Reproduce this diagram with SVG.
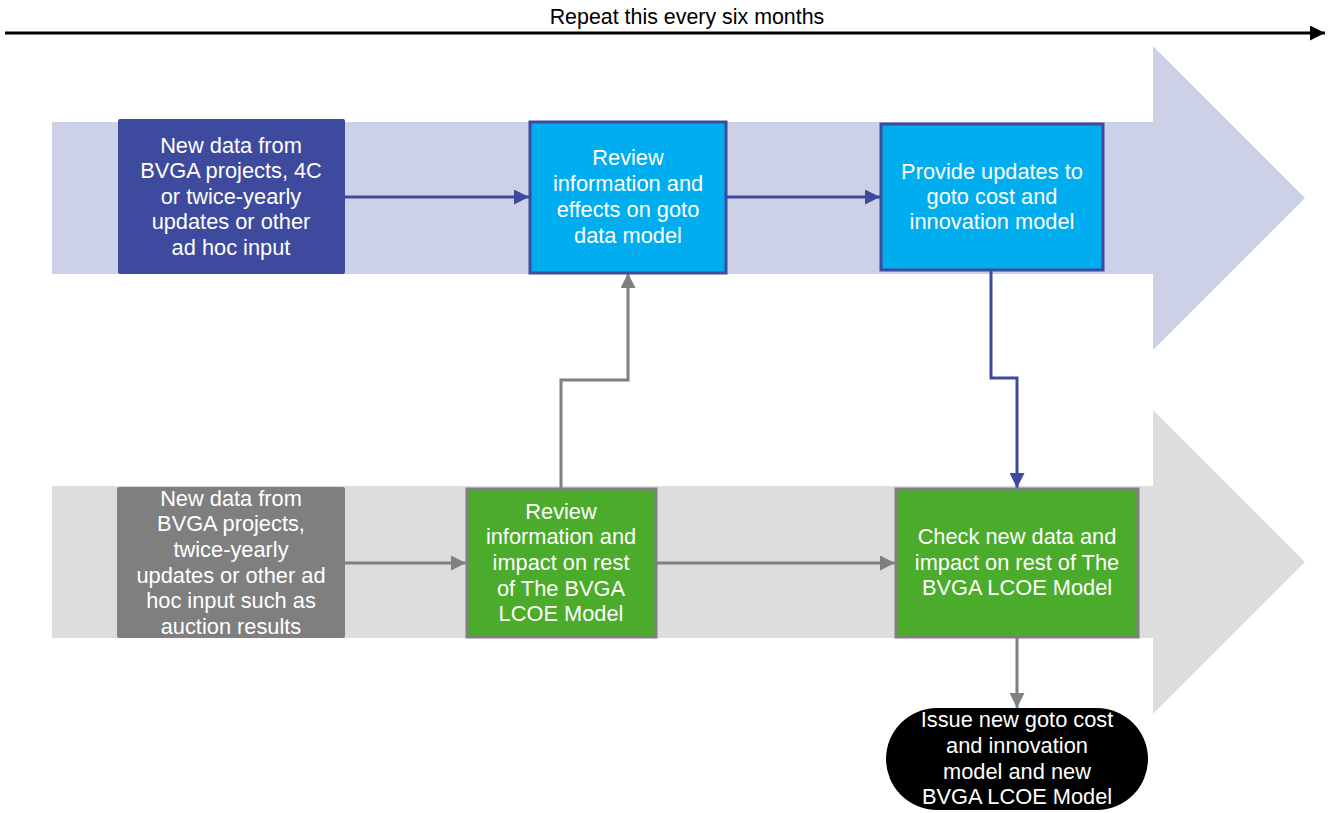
<svg xmlns="http://www.w3.org/2000/svg" width="1332" height="813" viewBox="0 0 1332 813">
<defs>
<style>
text{font-family:"Liberation Sans",Arial,sans-serif;font-size:21.8px;fill:#fff;text-anchor:middle}
.title{fill:#000;font-size:21.4px}
.cb{fill:none;stroke:#3D4A9E;stroke-width:3}
.cg{fill:none;stroke:#808080;stroke-width:3}
</style>
<marker id="ab" viewBox="0 0 10 10" refX="10" refY="5" markerWidth="5" markerHeight="5" orient="auto" markerUnits="strokeWidth"><path d="M0,0L10,5L0,10z" fill="#3D4A9E"/></marker>
<marker id="ag" viewBox="0 0 10 10" refX="10" refY="5" markerWidth="5" markerHeight="5" orient="auto" markerUnits="strokeWidth"><path d="M0,0L10,5L0,10z" fill="#808080"/></marker>
<marker id="ak" viewBox="0 0 10 10" refX="10" refY="5" markerWidth="5" markerHeight="5" orient="auto" markerUnits="strokeWidth"><path d="M0,0L10,5L0,10z" fill="#000"/></marker>
</defs>
<rect width="1332" height="813" fill="#fff"/>
<g id="timeline">
<line x1="5" y1="33" x2="1325" y2="33" stroke="#000" stroke-width="3" marker-end="url(#ak)"/>
<text class="title" x="687" y="24">Repeat this every six months</text>
</g>
<g id="lane-top"><path d="M52,122H1153V46L1305,198L1153,350V274H52z" fill="#CDD1E7"/></g>
<g id="lane-bottom"><path d="M52,486H1153V410L1305,562L1153,714V638H52z" fill="#DDDDDD"/></g>
<g id="connectors">
<line class="cb" x1="345" y1="197" x2="529" y2="197" marker-end="url(#ab)"/>
<line class="cb" x1="726" y1="197" x2="880" y2="197" marker-end="url(#ab)"/>
<path class="cb" d="M991,270V378H1017V488" marker-end="url(#ab)"/>
<line class="cg" x1="345" y1="563" x2="466" y2="563" marker-end="url(#ag)"/>
<line class="cg" x1="656" y1="563" x2="895" y2="563" marker-end="url(#ag)"/>
<path class="cg" d="M561,488V380H628V273" marker-end="url(#ag)"/>
<line class="cg" x1="1017" y1="637" x2="1017" y2="708" marker-end="url(#ag)"/>
</g>
<g id="n1">
<rect x="118" y="119" width="227" height="155" fill="#3D4A9E" rx="2"/>
<text x="231" y="153">New data from</text>
<text x="231" y="178">BVGA projects, 4C</text>
<text x="231" y="204">or twice-yearly</text>
<text x="231" y="229">updates or other</text>
<text x="231" y="255">ad hoc input</text>
</g>
<g id="n2">
<rect x="530" y="122" width="196" height="151" fill="#00AEEF" stroke="#3D4A9E" stroke-width="3"/>
<text x="628" y="165">Review</text>
<text x="628" y="191">information and</text>
<text x="628" y="217">effects on goto</text>
<text x="628" y="243">data model</text>
</g>
<g id="n3">
<rect x="881" y="124" width="222" height="146" fill="#00AEEF" stroke="#3D4A9E" stroke-width="3"/>
<text x="992" y="179">Provide updates to</text>
<text x="992" y="204">goto cost and</text>
<text x="992" y="229">innovation model</text>
</g>
<g id="n4">
<rect x="117" y="487" width="228" height="151" fill="#7F7F7F" rx="2"/>
<text x="231" y="506">New data from</text>
<text x="231" y="531">BVGA projects,</text>
<text x="231" y="557">twice-yearly</text>
<text x="231" y="583">updates or other ad</text>
<text x="231" y="608">hoc input such as</text>
<text x="231" y="634">auction results</text>
</g>
<g id="n5">
<rect x="467" y="489" width="189" height="148" fill="#4BAB2A" stroke="#808080" stroke-width="3"/>
<text x="561" y="519">Review</text>
<text x="561" y="544">information and</text>
<text x="561" y="570">impact on rest</text>
<text x="561" y="596">of The BVGA</text>
<text x="561" y="621">LCOE Model</text>
</g>
<g id="n6">
<rect x="896" y="489" width="242" height="148" fill="#4BAB2A" stroke="#808080" stroke-width="3"/>
<text x="1017" y="544">Check new data and</text>
<text x="1017" y="570">impact on rest of The</text>
<text x="1017" y="595">BVGA LCOE Model</text>
</g>
<g id="n7">
<rect x="886" y="708" width="262" height="102" rx="51" fill="#000"/>
<text x="1017" y="727">Issue new goto cost</text>
<text x="1017" y="753">and innovation</text>
<text x="1017" y="779">model and new</text>
<text x="1017" y="804">BVGA LCOE Model</text>
</g>
</svg>
